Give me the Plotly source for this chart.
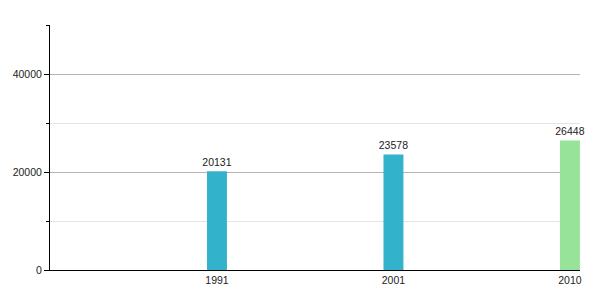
import plotly.graph_objects as go

years = ["1991", "2001", "2010"]
values = [20131, 23578, 26448]
colors = ["#33b2cc", "#33b2cc", "#98e39a"]

pos = list(range(len(years)))

fig = go.Figure(go.Bar(
    x=pos, y=values, width=0.113,
    marker=dict(color=colors, line=dict(width=0)),
    text=[str(v) for v in values], textposition="outside",
    textfont=dict(size=10.5, color="#222", family="Liberation Sans"),
    constraintext="none",
    cliponaxis=False,
))

fig.update_layout(
    width=600, height=300,
    margin=dict(l=50, r=20, t=25, b=30),
    plot_bgcolor="white", paper_bgcolor="white",
    showlegend=False,
    font=dict(family="Liberation Sans", size=10.5, color="#222"),
    xaxis=dict(
        range=[-0.946, 2.057], tickvals=pos, ticktext=years,
        showgrid=False, zeroline=False, showline=True, linecolor="#000", linewidth=1,
        ticks="", tickfont=dict(size=10.5, color="#222"),
    ),
    yaxis=dict(
        range=[0, 50000], dtick=20000, tick0=0, tickformat="d",
        showgrid=True, gridcolor="#b4b4b4", gridwidth=1,
        zeroline=False, showline=True, linecolor="#000", linewidth=1,
        ticks="outside", ticklen=5, tickcolor="#000",
        tickfont=dict(size=10.5, color="#222"),
        minor=dict(dtick=10000, showgrid=True, gridcolor="#e4e4e4", ticks="outside",
                   ticklen=3, tickcolor="#000"),
    ),
)

fig.write_html("out.html")
